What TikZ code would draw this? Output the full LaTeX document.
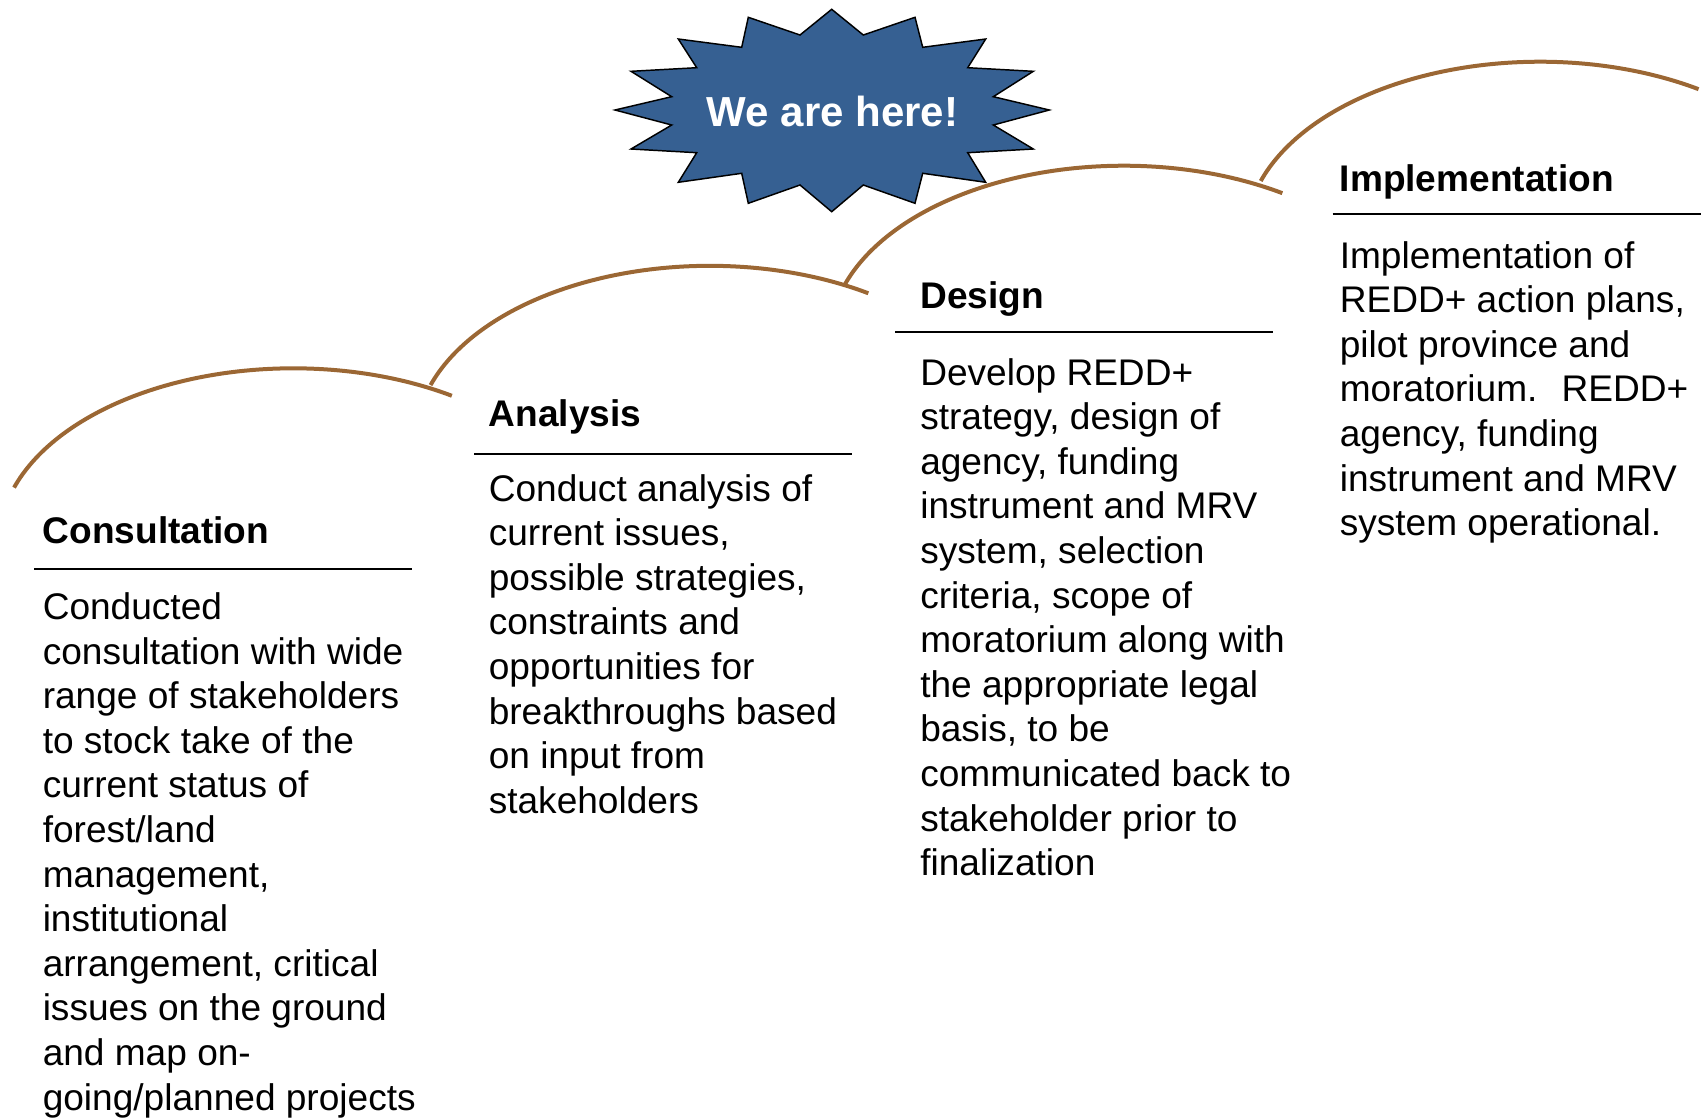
\documentclass[tikz,border=0pt]{standalone}
\usepackage{fontspec}
\setmainfont{Liberation Sans}
\definecolor{arcbrown}{RGB}{155,103,52}
\definecolor{starblue}{RGB}{54,96,146}
\begin{document}
\begin{tikzpicture}[x=0.75pt,y=-0.75pt,
  arcline/.style={draw=arcbrown, line width=3pt},
  rule/.style={draw=black, line width=1.5pt},
  head/.style={anchor=base west, inner sep=0pt, font=\fontsize{27.8pt}{33.45pt}\selectfont\bfseries},
  body/.style={anchor=base west, inner sep=0pt, align=left, font=\fontsize{27.8pt}{33.45pt}\selectfont},
]
\useasboundingbox (0,0) rectangle (1701,1118);

% arcs
\draw[arcline] plot[domain=161.6:57.4, samples=90, smooth] ({293.3+294.3*cos(\x)}, {542.6-174.3*sin(\x)});
\draw[arcline] plot[domain=161.6:57.4, samples=90, smooth] ({709.8+294.3*cos(\x)}, {440.1-174.3*sin(\x)});
\draw[arcline] plot[domain=161.6:57.4, samples=90, smooth] ({1123.8+294.3*cos(\x)}, {340.0-174.3*sin(\x)});
\draw[arcline] plot[domain=161.6:57.4, samples=90, smooth] ({1540.0+294.3*cos(\x)}, {236.0-174.3*sin(\x)});

% starburst
\draw[fill=starblue, draw=black, line width=1.1pt, line join=miter]
  (831.7,9.3) -- (863.3,35) -- (915,17.3) -- (922.7,47.3) -- (985.7,39) -- (967.7,67.7)
  -- (1033.3,71.3) -- (993.3,96.7) -- (1049.3,110) -- (993.3,125) -- (1033.3,149)
  -- (967.7,152.7) -- (985.7,182.3) -- (922.7,173.3) -- (915,203.3) -- (863.3,185)
  -- (831.7,211.7) -- (800,185) -- (748.3,203.3) -- (741.7,173.3) -- (678.3,182.3)
  -- (696.7,152.7) -- (631,149) -- (671.7,125) -- (615,110) -- (671.7,96.7)
  -- (631,71.3) -- (696.7,67.7) -- (678.3,39) -- (741.7,47.3) -- (748.3,17.3)
  -- (800,35) -- cycle;
\node[anchor=base, text=white, inner sep=0pt, font=\fontsize{31.5pt}{38pt}\selectfont\bfseries] (here) at (832.5,126.7) {We are here!};

% rules
\coordinate (r1a) at (34,569); \coordinate (r1b) at (411.5,569);
\coordinate (r2a) at (474,453.5); \coordinate (r2b) at (851.5,453.5);
\coordinate (r3a) at (895,332); \coordinate (r3b) at (1273,332);
\coordinate (r4a) at (1332.5,214); \coordinate (r4b) at (1701,214);
\draw[rule] (r1a) -- (r1b);
\draw[rule] (r2a) -- (r2b);
\draw[rule] (r3a) -- (r3b);
\draw[rule] (r4a) -- (r4b);

% headers
\node[head] (h1) at (42.5,543) {Consultation};
\node[head] (h2) at (488.5,426) {Analysis};
\node[head] (h3) at (920,308) {Design};
\node[head] (h4) at (1339.5,191) {Implementation};

% bodies (anchored at the baseline of their last line)
\node[body] (b1) at (42.5,1110.1) {Conducted\\consultation with wide\\range of stakeholders\\to stock take of the\\current status of\\forest/land\\management,\\institutional\\arrangement, critical\\issues on the ground\\and map on-\\going/planned projects};
\node[body] (b2) at (488.5,813.2) {Conduct analysis of\\current issues,\\possible strategies,\\constraints and\\opportunities for\\breakthroughs based\\on input from\\stakeholders};
\node[body] (b3) at (920,875.6) {Develop REDD+\\strategy, design of\\agency, funding\\instrument and MRV\\system, selection\\criteria, scope of\\moratorium along with\\the appropriate legal\\basis, to be\\communicated back to\\stakeholder prior to\\finalization};
\node[body] (b4) at (1339.5,535.6) {Implementation of\\REDD+ action plans,\\pilot province and\\moratorium.~ REDD+\\agency, funding\\instrument and MRV\\system operational.};
\end{tikzpicture}
\end{document}
